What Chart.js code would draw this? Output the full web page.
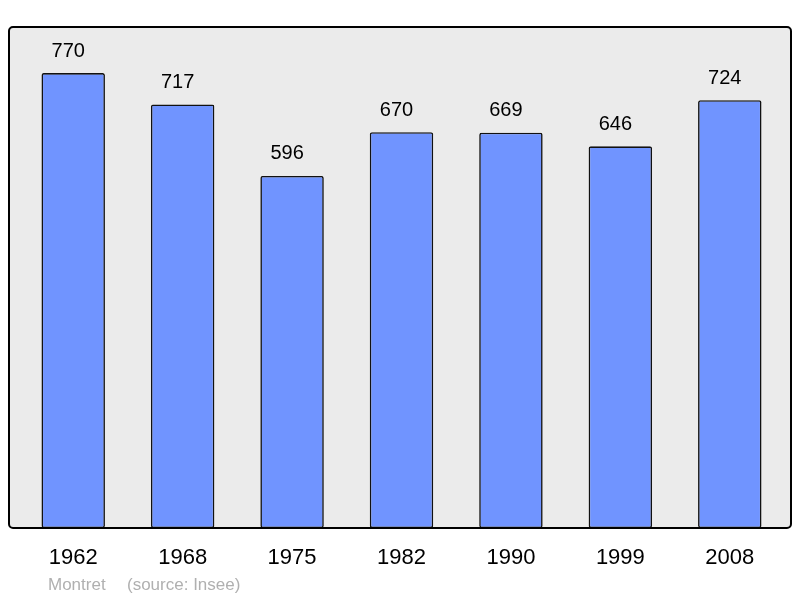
<!DOCTYPE html>
<html>
<head>
<meta charset="utf-8">
<script src="https://cdn.jsdelivr.net/npm/chart.js@4"></script>
<style>
  html, body { margin: 0; padding: 0; background: #ffffff; }
  #wrap { width: 800px; height: 598px; position: relative; }
</style>
</head>
<body>
<div id="wrap"><canvas id="popChart" width="800" height="598"></canvas></div>
<script>
// data
const years = ['1962', '1968', '1975', '1982', '1990', '1999', '2008'];
const population = [770, 717, 596, 670, 669, 646, 724];
const footerName = 'Montret';
const footerSource = '(source: Insee)';

// gray panel with black frame behind the bars
const panelPlugin = {
    id: 'panel',
    beforeDraw(chart) {
        const ctx = chart.ctx;
        ctx.save();
        ctx.beginPath();
        ctx.roundRect(9, 27, 782, 501, 4);
        ctx.fillStyle = '#ebebeb';
        ctx.fill();
        ctx.restore();
    },
    afterDatasetsDraw(chart) {
        const ctx = chart.ctx;
        ctx.save();
        ctx.beginPath();
        ctx.roundRect(9, 27, 782, 501, 4);
        ctx.lineWidth = 2;
        ctx.strokeStyle = '#000000';
        ctx.stroke();
        ctx.restore();
    }
};

// numbers above each bar + source line
const labelPlugin = {
    id: 'valueLabels',
    afterDatasetsDraw(chart) {
        const ctx = chart.ctx;
        const meta = chart.getDatasetMeta(0);
        ctx.save();
        ctx.font = '20px "Liberation Sans", Arial, sans-serif';
        ctx.fillStyle = '#000000';
        ctx.textAlign = 'center';
        ctx.textBaseline = 'middle';
        meta.data.forEach((bar, i) => {
            ctx.fillText(String(population[i]), bar.x - 5, bar.y - 22);
        });
        ctx.font = '17px "Liberation Sans", Arial, sans-serif';
        ctx.fillStyle = '#b0b0b0';
        ctx.textAlign = 'left';
        ctx.fillText(footerName, 48, 585);
        ctx.fillText(footerSource, 127, 585);
        ctx.restore();
    }
};

new Chart(document.getElementById('popChart'), {
    type: 'bar',
    data: {
        labels: years,
        datasets: [{
            data: population,
            backgroundColor: '#7094ff',
            borderColor: '#111111',
            borderWidth: 1.6,
            borderRadius: 2,
            borderSkipped: false,
            categoryPercentage: 1,
            barPercentage: 0.58
        }]
    },
    options: {
        responsive: false,
        animation: false,
        layout: { padding: { left: 18.5, right: 15.5, top: 27, bottom: 0 } },
        plugins: {
            legend: { display: false },
            tooltip: { enabled: false }
        },
        scales: {
            x: {
                grid: { display: false, drawTicks: false },
                border: { display: false },
                ticks: {
                    color: '#000000',
                    padding: 17,
                    font: { family: '"Liberation Sans", Arial, sans-serif', size: 22 }
                },
                afterFit(scale) { scale.height = 70; }
            },
            y: {
                display: false,
                min: 0,
                max: 848
            }
        }
    },
    plugins: [panelPlugin, labelPlugin]
});
</script>
</body>
</html>
